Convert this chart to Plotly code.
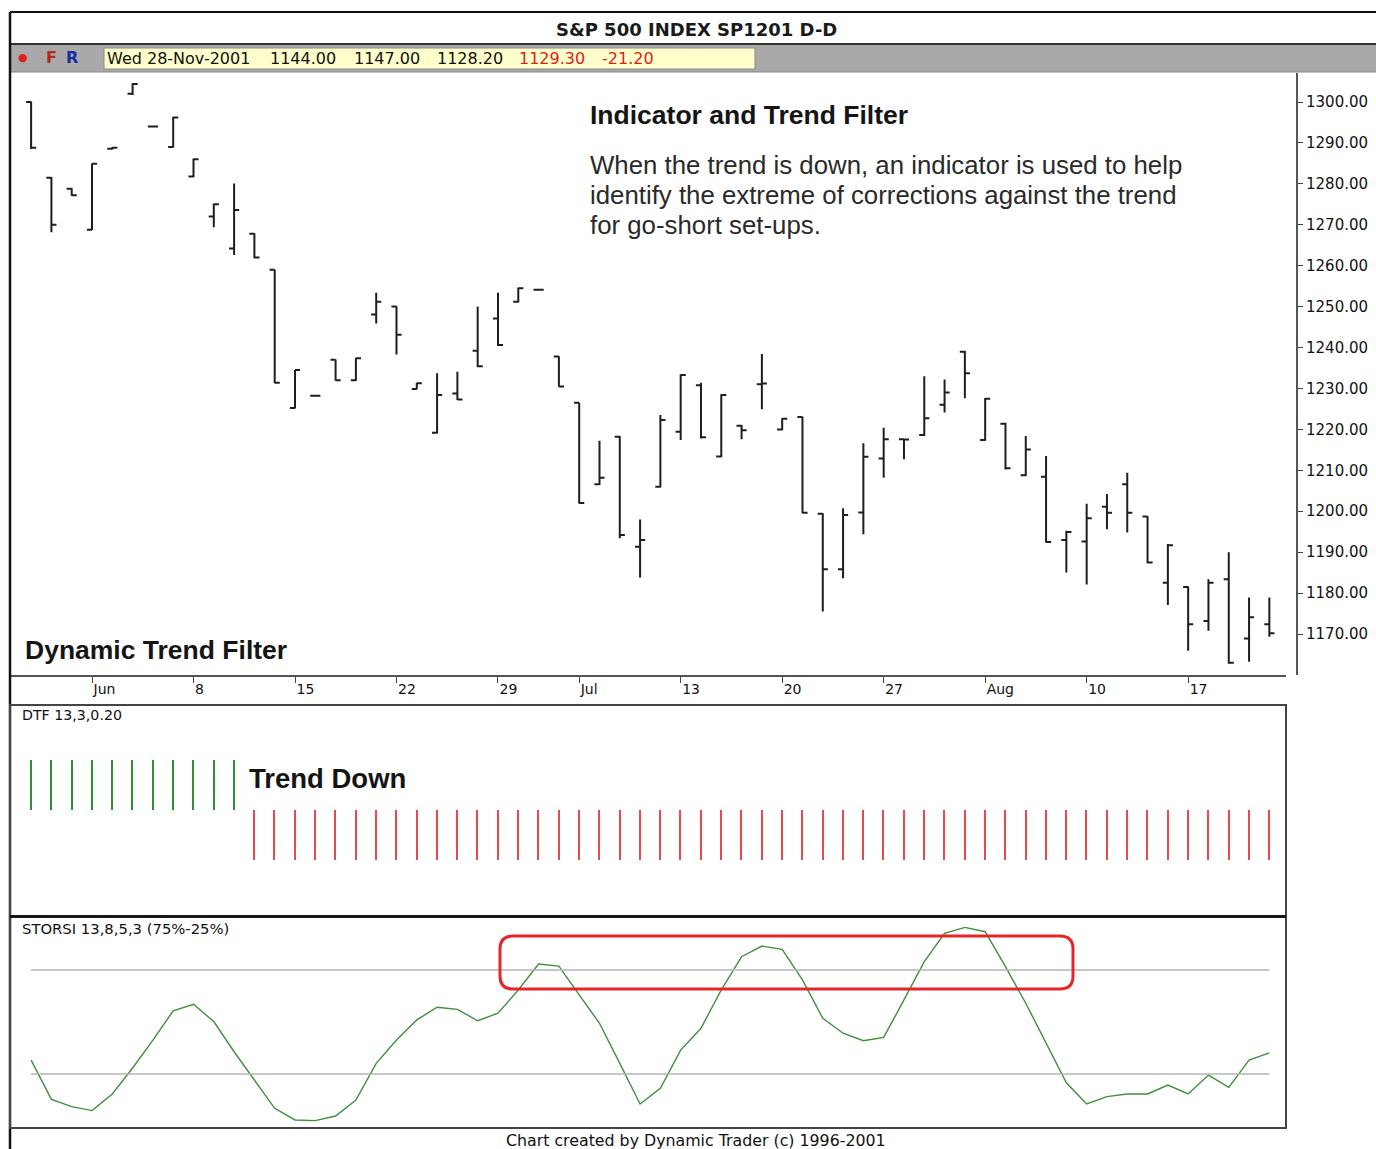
import plotly.graph_objects as go
import pandas as pd

W, H = 1376, 1149

# ---------------- data ----------------
trading_days = [d.strftime("%Y-%m-%d") for d in pd.bdate_range("2001-05-29", "2001-08-23")
                if d.strftime("%Y-%m-%d") != "2001-07-04"]

opens = [1300.0, 1281.5, 1278.8, 1268.8, 1288.6, 1302.0, 1294.0, 1289.0, 1281.8, 1272.0,
         1264.2, 1267.8, 1259.0, 1225.2, 1228.2, 1237.0, 1232.0, 1248.1, 1250.0, 1229.9,
         1219.2, 1228.8, 1239.2, 1247.1, 1251.2, 1254.1, 1237.8, 1226.5, 1206.6, 1218.2,
         1191.3, 1206.0, 1219.4, 1230.8, 1213.4, 1220.9, 1231.0, 1220.0, 1223.0, 1199.4,
         1185.8, 1199.7, 1212.9, 1217.6, 1218.6, 1226.0, 1239.0, 1217.4, 1221.4, 1208.8,
         1208.4, 1193.0, 1192.6, 1201.1, 1206.6, 1198.7, 1182.5, 1181.5, 1173.2, 1183.4,
         1168.9, 1172.4]
highs = [1300.1, 1281.7, 1278.9, 1285.0, 1289.0, 1304.6, 1294.2, 1296.4, 1286.2, 1275.2,
         1280.1, 1267.9, 1259.0, 1234.5, 1228.4, 1237.1, 1237.5, 1253.4, 1250.1, 1231.4,
         1233.7, 1234.1, 1250.0, 1253.4, 1254.7, 1254.3, 1237.9, 1226.5, 1217.2, 1218.4,
         1198.0, 1223.5, 1233.5, 1231.4, 1228.6, 1221.1, 1238.4, 1222.7, 1223.1, 1199.5,
         1200.7, 1216.6, 1220.4, 1217.6, 1233.0, 1232.2, 1239.2, 1227.7, 1221.6, 1218.4,
         1213.5, 1195.2, 1201.8, 1204.2, 1209.4, 1198.8, 1192.0, 1181.6, 1183.4, 1190.0,
         1178.9, 1178.9]
lows = [1288.5, 1268.2, 1277.1, 1268.7, 1288.4, 1301.7, 1293.8, 1288.9, 1281.6, 1269.4,
        1262.6, 1261.8, 1231.3, 1225.1, 1228.0, 1231.9, 1231.9, 1245.9, 1238.3, 1229.8,
        1219.0, 1227.2, 1235.2, 1240.4, 1251.0, 1253.9, 1230.4, 1201.9, 1206.4, 1193.4,
        1183.8, 1205.8, 1217.4, 1217.8, 1213.2, 1217.6, 1224.9, 1219.8, 1199.5, 1175.5,
        1183.6, 1194.4, 1208.2, 1212.7, 1218.4, 1224.1, 1227.6, 1217.2, 1210.2, 1208.6,
        1192.3, 1185.0, 1182.1, 1195.6, 1194.8, 1187.3, 1177.1, 1165.9, 1170.8, 1162.7,
        1163.2, 1169.3]
closes = [1288.8, 1270.0, 1277.2, 1284.9, 1288.8, 1304.4, 1294.0, 1296.2, 1286.0, 1275.0,
          1273.6, 1262.0, 1231.4, 1234.5, 1228.2, 1232.0, 1237.4, 1251.2, 1243.1, 1231.3,
          1228.4, 1227.3, 1235.4, 1240.6, 1254.5, 1254.1, 1230.5, 1202.0, 1208.2, 1194.2,
          1193.0, 1222.3, 1233.3, 1218.1, 1228.4, 1219.8, 1231.2, 1222.6, 1199.6, 1185.8,
          1199.1, 1213.3, 1217.6, 1217.5, 1222.7, 1229.0, 1233.7, 1227.5, 1210.5, 1215.1,
          1192.5, 1194.9, 1198.3, 1199.6, 1199.6, 1187.5, 1191.7, 1172.4, 1182.5, 1163.0,
          1174.1, 1170.2]

# Dynamic Trend Filter state: +1 trend up, -1 trend down
dtf = [1, 1, 1, 1, 1, 1, 1, 1, 1, 1,
       1, -1, -1, -1, -1, -1, -1, -1, -1, -1,
       -1, -1, -1, -1, -1, -1, -1, -1, -1, -1,
       -1, -1, -1, -1, -1, -1, -1, -1, -1, -1,
       -1, -1, -1, -1, -1, -1, -1, -1, -1, -1,
       -1, -1, -1, -1, -1, -1, -1, -1, -1, -1,
       -1, -1]

storsi = [31.7, 12.8, 9.3, 7.4, 15.4, 27.9, 41.3, 55.4, 58.5, 50.2,
          35.7, 22.1, 8.5, 2.9, 2.6, 4.8, 12.5, 30.1, 41.3, 51.0,
          57.1, 56.1, 50.6, 54.2, 65.4, 77.9, 76.9, 63.0, 49.4, 30.1,
          10.6, 18.1, 36.5, 47.0, 65.4, 81.4, 86.5, 84.9, 70.2, 51.8,
          44.6, 41.0, 42.6, 60.6, 79.0, 92.6, 95.5, 93.4, 76.6, 59.0,
          39.8, 20.8, 10.6, 14.1, 15.4, 15.4, 19.7, 15.4, 24.5, 18.6,
          31.7, 35.2]
storsi_levels = [75, 25]

tick_days = ["2001-06-01", "2001-06-08", "2001-06-15", "2001-06-22", "2001-06-29", "2001-07-06",
             "2001-07-13", "2001-07-20", "2001-07-27", "2001-08-03", "2001-08-10", "2001-08-17"]
tick_labels = ["Jun", "8", "15", "22", "29", "Jul", "13", "20", "27", "Aug", "10", "17"]
price_ticks = [1170, 1180, 1190, 1200, 1210, 1220, 1230, 1240, 1250, 1260, 1270, 1280, 1290, 1300]

# ---------------- helpers ----------------
def px(x):
    return x / W


def py(y):
    return 1 - y / H


UI_FONT = "DejaVu Sans"
ANN_FONT = "Liberation Sans, Arial"

fig = go.Figure()

fig.add_trace(go.Ohlc(
    x=trading_days, open=opens, high=highs, low=lows, close=closes,
    increasing=dict(line=dict(color="#1e1e1e", width=2)),
    decreasing=dict(line=dict(color="#1e1e1e", width=2)),
    tickwidth=0.25, xaxis="x", yaxis="y", showlegend=False, hoverinfo="skip"))

fig.add_trace(go.Bar(
    x=trading_days, y=dtf, base=0, width=0.07,
    marker=dict(color=["#2f8f35" if v > 0 else "#e5484d" for v in dtf], line=dict(width=0)),
    xaxis="x2", yaxis="y2", showlegend=False, hoverinfo="skip"))

fig.add_trace(go.Scatter(
    x=trading_days, y=storsi, mode="lines",
    line=dict(color="#3f8f3f", width=1.4), xaxis="x3", yaxis="y3",
    showlegend=False, hoverinfo="skip"))

for lv in storsi_levels:
    fig.add_trace(go.Scatter(
        x=[trading_days[0], trading_days[-1]], y=[lv, lv], mode="lines",
        line=dict(color="#b4b4b4", width=1.5), xaxis="x3", yaxis="y3",
        showlegend=False, hoverinfo="skip"))

xr = [-1.04, 61.82]
xdom = [px(10), px(1286)]
cat = dict(type="category", categoryorder="array", categoryarray=trading_days)

fig.update_layout(
    width=W, height=H,
    margin=dict(l=0, r=0, t=0, b=0),
    paper_bgcolor="white", plot_bgcolor="white",
    bargap=0,
    xaxis=dict(domain=xdom, range=xr, anchor="y", **cat,
               tickmode="array", tickvals=tick_days, ticktext=tick_labels,
               ticks="outside", ticklen=6, tickcolor="#444", tickwidth=1,
               ticklabelposition="outside right",
               showline=True, linecolor="#555", linewidth=2,
               showgrid=False, zeroline=False,
               tickfont=dict(family=UI_FONT, size=14, color="#111"),
               rangeslider=dict(visible=False)),
    yaxis=dict(domain=[py(675), py(73)], range=[1159.98, 1307.09],
               anchor="free", position=px(1297), side="right",
               tickmode="array", tickvals=price_ticks, tickformat=".2f",
               ticks="outside", ticklen=5, tickcolor="#444",
               showline=True, linecolor="#555", linewidth=2,
               showgrid=False, zeroline=False,
               tickfont=dict(family=UI_FONT, size=15, color="#111")),
    xaxis2=dict(domain=xdom, range=xr, anchor="y2", **cat,
                visible=False, showgrid=False),
    yaxis2=dict(domain=[py(916), py(706)], range=[-2.12, 2.08], anchor="x2",
                visible=False, showgrid=False),
    xaxis3=dict(domain=xdom, range=xr, anchor="y3", **cat,
                visible=False, showgrid=False),
    yaxis3=dict(domain=[py(1128), py(918)], range=[-0.96, 100], anchor="x3",
                visible=False, showgrid=False),
)

shapes = []


def rect(x0, y0, x1, y1, fill=None, line_color=None, lw=0):
    d = dict(type="rect", xref="paper", yref="paper",
             x0=px(x0), x1=px(x1), y0=py(y1), y1=py(y0), layer="below" if fill else "above")
    if fill:
        d["fillcolor"] = fill
    if line_color:
        d["line"] = dict(color=line_color, width=lw)
    else:
        d["line"] = dict(width=0)
    return d


def hline(x0, x1, y, color, lw):
    return dict(type="line", xref="paper", yref="paper", x0=px(x0), x1=px(x1),
                y0=py(y), y1=py(y), line=dict(color=color, width=lw), layer="above")


def vline(x, y0, y1, color, lw):
    return dict(type="line", xref="paper", yref="paper", x0=px(x), x1=px(x),
                y0=py(y0), y1=py(y1), line=dict(color=color, width=lw), layer="above")


# header band
shapes.append(rect(10, 44, 1376, 72, fill="#a9a9a9"))
shapes.append(rect(104, 48, 755, 69, fill="#ffffcc", line_color="#8a8a8a", lw=1))
shapes.append(hline(10, 1376, 12, "#111", 2))
shapes.append(hline(10, 1376, 44, "#333", 2))
shapes.append(hline(10, 1376, 72, "#888", 1))
shapes.append(vline(10, 12, 1149, "#111", 2.5))
# sub panels
shapes.append(rect(10, 705, 1286, 916, line_color="#444", lw=2))
shapes.append(rect(10, 917, 1286, 1128, line_color="#444", lw=2))
shapes.append(hline(10, 1286, 916.5, "#111", 2.5))

# red rounded highlight box
x0, x1, y0, y1, r = 500, 1073, 936, 989, 13


def pt(x, y):
    return f"{px(x):.6f},{py(y):.6f}"


path = (f"M {pt(x0 + r, y0)} L {pt(x1 - r, y0)} Q {pt(x1, y0)} {pt(x1, y0 + r)} "
        f"L {pt(x1, y1 - r)} Q {pt(x1, y1)} {pt(x1 - r, y1)} "
        f"L {pt(x0 + r, y1)} Q {pt(x0, y1)} {pt(x0, y1 - r)} "
        f"L {pt(x0, y0 + r)} Q {pt(x0, y0)} {pt(x0 + r, y0)} Z")
shapes.append(dict(type="path", xref="paper", yref="paper", path=path,
                   line=dict(color="#e3262a", width=3), layer="above"))

fig.update_layout(shapes=shapes)

anns = []


def text(x, y, s, size, family=UI_FONT, color="#111", xanchor="left", bold=False):
    if bold:
        s = f"<b>{s}</b>"
    anns.append(dict(x=px(x), y=py(y), xref="paper", yref="paper", text=s, showarrow=False,
                     xanchor=xanchor, yanchor="middle",
                     font=dict(family=family, size=size, color=color)))


text(696, 29, "S&amp;P 500 INDEX SP1201 D-D", 18, xanchor="center", bold=True, color="#1a1a1a")
text(16, 58, "●", 11, color="#e02020")
text(44, 58, "F", 16, color="#b02a1a", bold=True)
text(64, 58, "R", 16, color="#1a2ca0", bold=True)
text(105, 59, "Wed 28-Nov-2001", 16)
text(268, 59, "1144.00", 16)
text(352, 59, "1147.00", 16)
text(435, 59, "1128.20", 16)
text(517, 59, "1129.30", 16, color="#e02020")
text(600, 59, "-21.20", 16, color="#e02020")

text(588, 115, "Indicator and Trend Filter", 26.5, family=ANN_FONT, bold=True, color="#151515")
text(588, 165, "When the trend is down, an indicator is used to help", 25.8, family=ANN_FONT, color="#2a2a2a")
text(588, 195, "identify the extreme of corrections against the trend", 25.8, family=ANN_FONT, color="#2a2a2a")
text(588, 225, "for go-short set-ups.", 25.8, family=ANN_FONT, color="#2a2a2a")
text(23, 650, "Dynamic Trend Filter", 26.5, family=ANN_FONT, bold=True, color="#151515")
text(247, 778, "Trend Down", 27.5, family=ANN_FONT, bold=True, color="#151515")

text(20, 715, "DTF 13,3,0.20", 14.2)
text(20, 928, "STORSI 13,8,5,3 (75%-25%)", 14.8)
text(696, 1140, "Chart created by Dynamic Trader (c) 1996-2001", 15.8, xanchor="center")

fig.update_layout(annotations=anns)

fig.write_html("out.html", config={"displayModeBar": False})

# remove the default page margin so the figure sits at the window's top-left corner
with open("out.html", "r", encoding="utf-8") as f:
    html = f.read()
html = html.replace("<head>", "<head><style>html,body{margin:0;padding:0;overflow:hidden;}</style>", 1)
with open("out.html", "w", encoding="utf-8") as f:
    f.write(html)
